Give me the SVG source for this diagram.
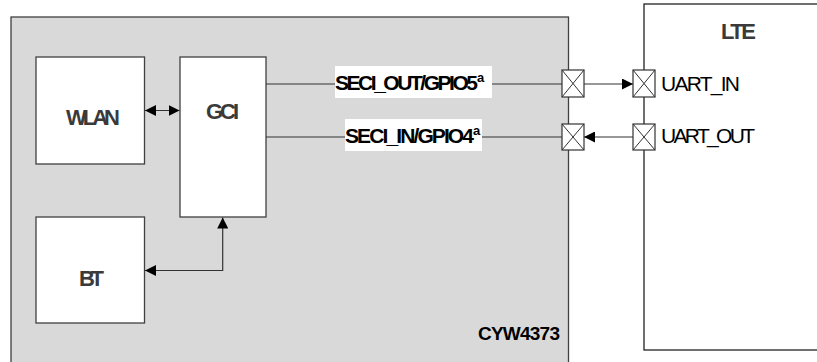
<svg xmlns="http://www.w3.org/2000/svg" width="817" height="362" viewBox="0 0 817 362">
<style>
.box{fill:#fff;stroke:#404040;stroke-width:1.3}
.nl{font-family:"Liberation Sans",Arial,sans-serif;font-weight:bold;font-size:22px;fill:#3a3a3a}
.sig{font-family:"Liberation Sans",Arial,sans-serif;font-weight:bold;font-size:21px;fill:#000}
.sup{font-family:"Liberation Sans",Arial,sans-serif;font-weight:bold;font-size:13px;fill:#000}
.pl{font-family:"Liberation Sans",Arial,sans-serif;font-size:21px;fill:#000}
.ln{fill:none;stroke:#333;stroke-width:1.2}
.pin rect{fill:#fff;stroke:#333;stroke-width:1.2}
.pin path{fill:none;stroke:#333;stroke-width:1}
</style>
<defs>
<marker id="ah" viewBox="0 0 11 11" refX="11" refY="5.5" markerWidth="11" markerHeight="11" markerUnits="userSpaceOnUse" orient="auto-start-reverse">
<path d="M0,0 L11,5.5 L0,11 Z" fill="#000"/>
</marker>
</defs>
<g id="cyw4373">
<rect x="11" y="17" width="557.5" height="360" fill="#d9d9d9" stroke="#404040" stroke-width="1.3"/>
<text class="sig" x="478" y="340" textLength="82" lengthAdjust="spacing" style="font-size:19px">CYW4373</text>
</g>
<g id="lte">
<rect x="644" y="4" width="200" height="346" fill="#fff" stroke="#222" stroke-width="1.3"/>
<text class="nl" x="721" y="39" textLength="35" lengthAdjust="spacing">LTE</text>
</g>
<g id="wlan">
<rect class="box" x="36" y="57" width="108.5" height="107"/>
<text class="nl" x="66" y="125" textLength="54" lengthAdjust="spacing">WLAN</text>
</g>
<g id="gci">
<rect class="box" x="180" y="57" width="86" height="160"/>
<text class="nl" x="206" y="119" textLength="33" lengthAdjust="spacing">GCI</text>
</g>
<g id="bt">
<rect class="box" x="36" y="217" width="108.5" height="106"/>
<text class="nl" x="79" y="286" textLength="25" lengthAdjust="spacing">BT</text>
</g>
<g id="connectors">
<line class="ln" x1="145" y1="110.5" x2="179.5" y2="110.5" marker-start="url(#ah)" marker-end="url(#ah)"/>
<polyline class="ln" points="145,270.5 222.7,270.5 222.7,217.5" marker-start="url(#ah)" marker-end="url(#ah)"/>
<line class="ln" x1="266" y1="84" x2="562" y2="84"/>
<line class="ln" x1="266" y1="137" x2="562" y2="137"/>
<line class="ln" x1="584" y1="84" x2="633" y2="84" marker-end="url(#ah)"/>
<line class="ln" x1="633" y1="137" x2="584" y2="137" marker-end="url(#ah)"/>
</g>
<g id="label-seci-out">
<rect x="335" y="66" width="157" height="32" fill="#fff"/>
<text class="sig" x="335" y="90" textLength="143" lengthAdjust="spacing">SECI_OUT/GPIO5</text>
<text class="sup" x="477" y="82">a</text>
</g>
<g id="label-seci-in">
<rect x="345" y="119" width="137" height="32" fill="#fff"/>
<text class="sig" x="345" y="143" textLength="129" lengthAdjust="spacing">SECI_IN/GPIO4</text>
<text class="sup" x="473" y="135">a</text>
</g>
<g id="pin-seci-out" class="pin">
<rect x="562" y="70" width="22" height="27"/>
<path d="M562,70 L584,97 M584,70 L562,97"/>
</g>
<g id="pin-seci-in" class="pin">
<rect x="562" y="124" width="22" height="26"/>
<path d="M562,124 L584,150 M584,124 L562,150"/>
</g>
<g id="pin-uart-in" class="pin">
<rect x="633" y="70" width="22" height="27"/>
<path d="M633,70 L655,97 M655,70 L633,97"/>
</g>
<g id="pin-uart-out" class="pin">
<rect x="633" y="124" width="22" height="26"/>
<path d="M633,124 L655,150 M655,124 L633,150"/>
</g>
<g id="uart-labels">
<text class="pl" x="661" y="91" textLength="79" lengthAdjust="spacing">UART_IN</text>
<text class="pl" x="661" y="143" textLength="94" lengthAdjust="spacing">UART_OUT</text>
</g>
</svg>
